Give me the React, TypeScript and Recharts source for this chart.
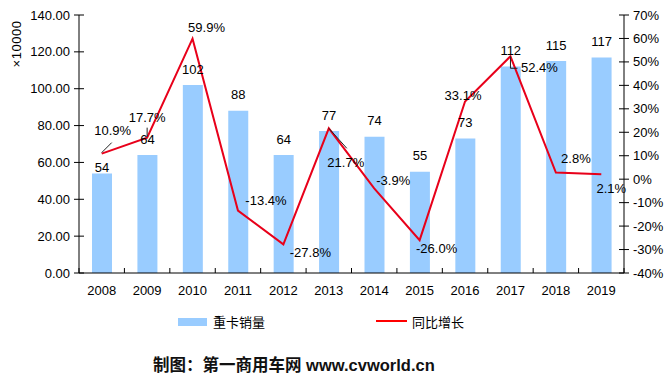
import React from "react";
import { ComposedChart, Bar, Line, XAxis, YAxis, LabelList } from "recharts";

const years = ["2008", "2009", "2010", "2011", "2012", "2013", "2014", "2015", "2016", "2017", "2018", "2019"];
const sales = [54, 64, 102, 88, 64, 77, 74, 55, 73, 112, 115, 117];
const growth = [10.9, 17.7, 59.9, -13.4, -27.8, 21.7, -3.9, -26.0, 33.1, 52.4, 2.8, 2.1];
const salesTicks = [0, 20, 40, 60, 80, 100, 120, 140];
const growthTicks = [-40, -30, -20, -10, 0, 10, 20, 30, 40, 50, 60, 70];

// where each growth label sits relative to its point, plus optional leader lines
const growthLabelOffset: [number, number][] = [
  [11, -23], [0, -20], [14, -11], [28, -10], [27, 8], [17, 34],
  [19, -8], [17, 8], [-2, -6], [29, 11], [20, -14], [10, 14],
];
const leaders: Record<number, [number, number][]> = {
  0: [[0, -1], [10, -11]],
  1: [[0, -1], [0, -10]],
  5: [[0, 0], [18, 20]],
  9: [[0, 0], [0, 12], [7, 12]],
};

const W = 669;
const H = 300;
const LEFT = 79;
const RIGHT = 45;
const HALF_BAND = (W - LEFT - RIGHT) / years.length / 2;
const FONT = "'Liberation Sans', Arial, sans-serif";

const data = years.map((year, i) => ({ year, sales: sales[i], growth: growth[i] }));

const LeftTick = (props: any) => {
  const { x, y, payload } = props;
  return (
    <g>
      <line x1={x - 5} x2={x + 5} y1={y} y2={y} stroke="#000" />
      <text x={x - 9} y={y} dy="0.35em" textAnchor="end" fontSize={13} fontFamily={FONT} fill="#000">
        {Number(payload.value).toFixed(2)}
      </text>
    </g>
  );
};

const RightTick = (props: any) => {
  const { x, y, payload } = props;
  return (
    <g>
      <line x1={x - 5} x2={x + 5} y1={y} y2={y} stroke="#000" />
      <text x={x + 9} y={y} dy="0.35em" textAnchor="start" fontSize={13} fontFamily={FONT} fill="#000">
        {payload.value}%
      </text>
    </g>
  );
};

const BottomTick = (props: any) => {
  const { x, y, payload, index } = props;
  return (
    <g>
      <line x1={x - HALF_BAND} x2={x - HALF_BAND} y1={y} y2={y - 5} stroke="#000" />
      {index === years.length - 1 && (
        <line x1={x + HALF_BAND} x2={x + HALF_BAND} y1={y} y2={y - 5} stroke="#000" />
      )}
      <text x={x} y={y + 17} dy="0.35em" textAnchor="middle" fontSize={13} fontFamily={FONT} fill="#000">
        {payload.value}
      </text>
    </g>
  );
};

const SalesLabel = (props: any) => {
  const { x, y, width, value, index } = props;
  const dy = index === 0 ? -6 : -16;
  return (
    <text x={x + width / 2} y={y + dy} dy="0.35em" textAnchor="middle" fontSize={13} fontFamily={FONT} fill="#000">
      {value}
    </text>
  );
};

const GrowthLabel = (props: any) => {
  const { x, y, value, index } = props;
  const [dx, dy] = growthLabelOffset[index];
  const lead = leaders[index];
  return (
    <g>
      {lead && (
        <polyline
          points={lead.map(([a, b]) => `${x + a},${y + b}`).join(" ")}
          fill="none"
          stroke="#222"
          strokeWidth={1}
        />
      )}
      <text x={x + dx} y={y + dy} dy="0.35em" textAnchor="middle" fontSize={13} fontFamily={FONT} fill="#000">
        {Number(value).toFixed(1)}%
      </text>
    </g>
  );
};

export default function App() {
  return (
    <div style={{ position: "absolute", left: 0, top: 0, width: W, height: 381, background: "#fff", fontFamily: FONT }}>
      <ComposedChart width={W} height={H} data={data} margin={{ top: 15, right: 0, bottom: 0, left: 0 }}>
        <XAxis
          dataKey="year"
          height={27}
          tickLine={false}
          tickSize={0}
          tickMargin={0}
          axisLine={{ stroke: "#000" }}
          tick={<BottomTick />}
        />
        <YAxis
          yAxisId="left"
          width={LEFT}
          domain={[0, 140]}
          ticks={salesTicks}
          tickLine={false}
          tickSize={0}
          tickMargin={0}
          axisLine={{ stroke: "#000" }}
          tick={<LeftTick />}
        />
        <YAxis
          yAxisId="right"
          orientation="right"
          width={RIGHT}
          domain={[-40, 70]}
          ticks={growthTicks}
          tickLine={false}
          tickSize={0}
          tickMargin={0}
          axisLine={{ stroke: "#000" }}
          tick={<RightTick />}
        />
        <Bar yAxisId="left" dataKey="sales" fill="#99ccff" barSize={20} isAnimationActive={false}>
          <LabelList dataKey="sales" content={<SalesLabel />} />
        </Bar>
        <Line
          yAxisId="right"
          dataKey="growth"
          type="linear"
          stroke="#e8001a"
          strokeWidth={2}
          dot={false}
          isAnimationActive={false}
        >
          <LabelList dataKey="growth" content={<GrowthLabel />} />
        </Line>
      </ComposedChart>

      <div
        style={{
          position: "absolute",
          left: 16,
          top: 44,
          transform: "translate(-50%, -50%) rotate(-90deg)",
          fontSize: 13,
          letterSpacing: 0.5,
          whiteSpace: "nowrap",
          color: "#000",
        }}
      >
        ×10000
      </div>

      <div style={{ position: "absolute", left: 178, top: 318, width: 29, height: 8, background: "#99ccff" }} />
      <div style={{ position: "absolute", left: 213, top: 313, fontSize: 13, lineHeight: "18px", fontFamily: "'Noto Sans CJK SC', sans-serif" }}>
        重卡销量
      </div>
      <div style={{ position: "absolute", left: 376, top: 320, width: 31, height: 2, background: "#ff0000" }} />
      <div style={{ position: "absolute", left: 412, top: 313, fontSize: 13, lineHeight: "18px", fontFamily: "'Noto Sans CJK SC', sans-serif" }}>
        同比增长
      </div>

      <div
        style={{
          position: "absolute",
          left: 153,
          top: 354,
          fontSize: 16.5,
          lineHeight: "22px",
          fontWeight: "bold",
          color: "#111",
          whiteSpace: "nowrap",
          fontFamily: "'Liberation Sans', 'Noto Sans CJK SC', sans-serif",
        }}
      >
        制图：第一商用车网 www.cvworld.cn
      </div>
    </div>
  );
}
